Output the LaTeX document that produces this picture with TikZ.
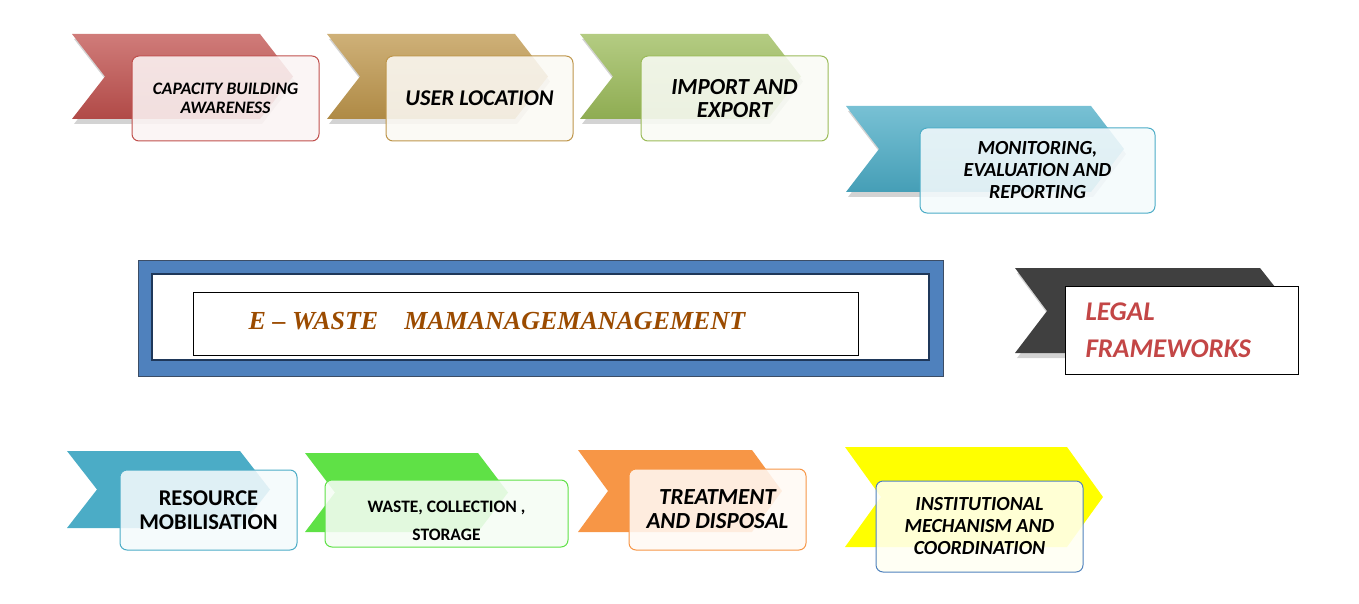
\documentclass[tikz,border=0pt]{standalone}
\usepackage{fontspec}
\setmainfont{Carlito}
\newfontfamily\titlefont{Liberation Serif}
\usetikzlibrary{shadows}

\definecolor{cRed}{RGB}{192,80,77}
\definecolor{cGold}{RGB}{190,150,75}
\definecolor{cGreen}{RGB}{155,187,89}
\definecolor{cBlue}{RGB}{75,172,198}
\definecolor{cDark}{RGB}{64,64,64}
\definecolor{cLime}{RGB}{95,225,70}
\definecolor{cOrange}{RGB}{247,150,70}
\definecolor{cYellow}{RGB}{255,255,0}
\definecolor{cNavyBlue}{RGB}{79,129,189}
\definecolor{cNavy}{RGB}{31,56,90}
\definecolor{cBrown}{RGB}{155,75,0}
\definecolor{cLegal}{RGB}{195,70,70}

\tikzset{
  box/.style={draw=#1, line width=1pt, rounded corners=7pt, fill=#1!6,
    fill opacity=.88, text opacity=1, align=center, inner sep=0pt},
  bi/.style 2 args={font=\fontsize{#1}{#2}\selectfont\bfseries\itshape},
  bu/.style 2 args={font=\fontsize{#1}{#2}\selectfont\bfseries},
  shade/.style={drop shadow={opacity=.35, shadow xshift=2pt, shadow yshift=-5pt}}
}

\begin{document}
\begin{tikzpicture}[x=1pt, y=-1pt]
	\useasboundingbox (0,0) rectangle (1359,604);
	% chevrons of the top row
	\foreach \x/\y/\w/\h/\d/\col in {72/34/188/85/33/cRed, 327/34/188/85/33/cGold,
	    580/34/188/85/33/cGreen, 846/106/245/86/33/cBlue}
	  \path [shade, top color=\col!75!white, bottom color=\col!92!black]
	    (\x,\y) -- ++(\w,0) -- ++(\d,\h/2) -- ++(-\d,\h/2) -- ++(-\w,0) -- ++(\d,-\h/2) -- cycle;
	\path [shade, fill=cDark] (1015,268) -- ++(245,0) -- ++(34,43) -- ++(-34,42) -- ++(-245,0) -- ++(32,-42) -- cycle;
	% chevrons of the bottom row
	\foreach \x/\y/\w/\h/\d/\col in {67/451/173/77/30/cBlue, 305/453/173/79/30/cLime,
	    578/450/174/82/30/cOrange, 845/447/222/100/36/cYellow}
	  \fill [\col] (\x,\y) -- ++(\w,0) -- ++(\d,\h/2) -- ++(-\d,\h/2) -- ++(-\w,0) -- ++(\d,-\h/2) -- cycle;

	\node [box=cRed, bi={17.5}{19}, minimum width=187pt, minimum height=85pt] (capacity) at (225.5,98.5) {CAPACITY BUILDING\\AWARENESS};
	\node [box=cGold, bi={22.5}{24}, minimum width=187pt, minimum height=85pt] (user) at (479.5,98.5) {USER LOCATION};
	\node [box=cGreen, bi={23}{23}, minimum width=187pt, minimum height=85pt] (import) at (734.5,98.5) {IMPORT AND\\EXPORT};
	\node [box=cBlue, bi={20}{22}, minimum width=235pt, minimum height=85pt] (monitor) at (1037.5,170.5) {MONITORING,\\EVALUATION AND\\REPORTING};

	% the centre panel
	\draw [fill=cNavyBlue, draw=cNavy!70!gray] (138,260) rectangle (943,376);
	\draw [fill=white, draw=cNavy, line width=2pt] (152,274) rectangle (929,360);
	\node [draw=black, fill=white, minimum width=665pt, minimum height=63pt] (panel) at (525.5,323.5) {};
	\node [text=cBrown, font=\titlefont\fontsize{26}{30}\selectfont\bfseries\itshape] (title) at (497,321) {E – WASTE\quad MAMANAGEMANAGEMENT};

	\node [draw=black, line width=1pt, fill=white, minimum width=233pt, minimum height=88pt, inner sep=0pt] (legalbox) at (1181.5,330) {};
	\node [bi={27}{37}, text=cLegal, align=left, anchor=west] (legal) at (1082,330) {LEGAL\\FRAMEWORKS};

	\node [box=cBlue, bu={22.5}{24}, minimum width=177pt, minimum height=80pt] (resource) at (208.5,510) {RESOURCE\\MOBILISATION};
	\node [box=cLime, minimum width=243pt, minimum height=67pt] (waste) at (446.5,513.5) {};
	\node [bu={17.5}{28}, align=center] (wastetext) at (446.5,521) {WASTE, COLLECTION ,\\STORAGE};
	\node [box=cOrange, bi={23}{24}, minimum width=177pt, minimum height=81pt] (treat) at (717.5,509.5) {TREATMENT\\AND DISPOSAL};
	\node [box=cNavyBlue, fill=cYellow!5, bi={20}{22}, minimum width=207pt, minimum height=91pt] (inst) at (979.5,526.5) {INSTITUTIONAL\\MECHANISM AND\\COORDINATION};
\end{tikzpicture}
\end{document}
